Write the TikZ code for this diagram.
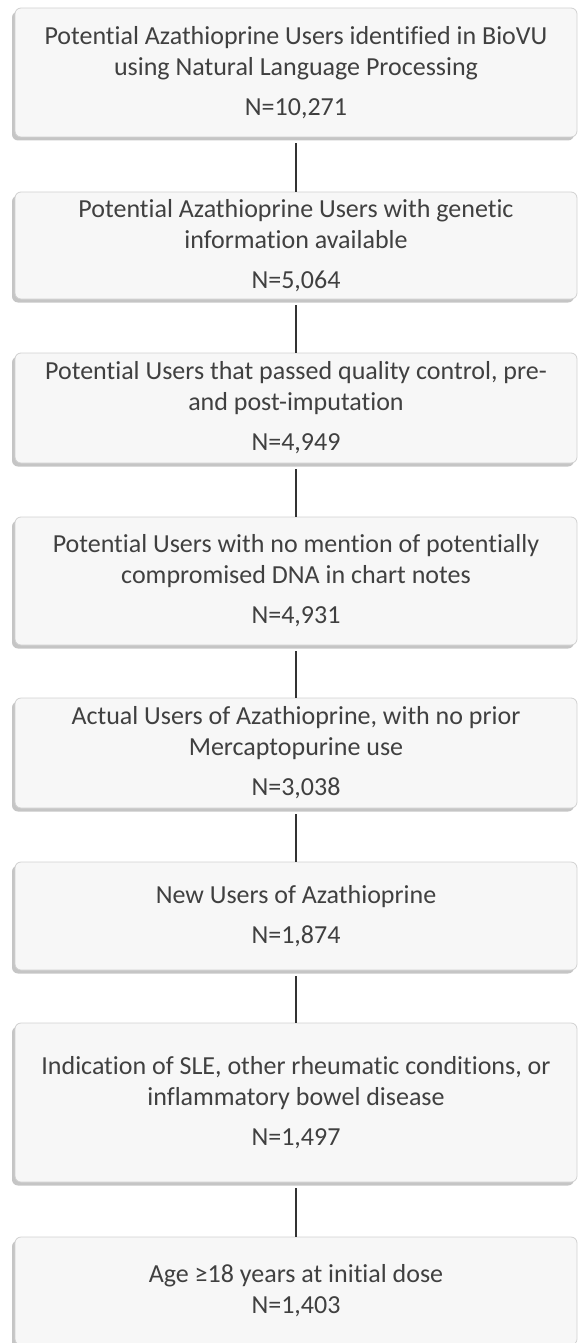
\documentclass[tikz,border=0pt]{standalone}
\usepackage{fontspec}
\setmainfont{Carlito}[Ligatures={NoCommon,NoDiscretionary}]
\usetikzlibrary{shadows}
\definecolor{boxtext}{HTML}{404040}
\definecolor{boxfill}{HTML}{F7F7F7}
\begin{document}
\begin{tikzpicture}[x=1pt, y=-1pt,
    flowbox/.style={draw=black!18, line width=0.8pt, fill=boxfill, rounded corners=6pt,
        minimum width=562pt, inner sep=0pt, align=center, text=boxtext,
        font=\fontsize{26}{31}\selectfont,
        drop shadow={shadow xshift=-3pt, shadow yshift=-3.5pt, fill=black!30, opacity=0.75}},
    link/.style={line width=1.6pt, draw=black!80}]

    \useasboundingbox (0,0) rectangle (579,1343);

    \node[flowbox, minimum height=129pt] (nlp) at (296,72.5) {Potential Azathioprine Users identified in BioVU\\ using Natural Language Processing\\[9pt] N=10,271};
    \node[flowbox, minimum height=107pt] (genetic) at (296,245.5) {Potential Azathioprine Users with genetic\\ information available\\[9pt] N=5,064};
    \node[flowbox, minimum height=110pt] (qc) at (296,408) {Potential Users that passed quality control, pre-\\ and post-imputation\\[9pt] N=4,949};
    \node[flowbox, minimum height=128pt] (dna) at (296,581) {Potential Users with no mention of potentially\\ compromised DNA in chart notes\\[9pt] N=4,931};
    \node[flowbox, minimum height=110pt] (actual) at (296,753) {Actual Users of Azathioprine, with no prior\\ Mercaptopurine use\\[9pt] N=3,038};
    \node[flowbox, minimum height=108pt] (new) at (296,916) {New Users of Azathioprine\\[9pt] N=1,874};
    \node[flowbox, minimum height=159pt] (indication) at (296,1102.5) {Indication of SLE, other rheumatic conditions, or\\ inflammatory bowel disease\\[9pt] N=1,497};
    \node[flowbox, minimum height=108pt] (adult) at (296,1291) {Age ≥18 years at initial dose\\ N=1,403};

    \draw[link] ([yshift=-6pt]nlp.south) -- (genetic.north);
    \draw[link] ([yshift=-6pt]genetic.south) -- (qc.north);
    \draw[link] ([yshift=-6pt]qc.south) -- (dna.north);
    \draw[link] ([yshift=-6pt]dna.south) -- (actual.north);
    \draw[link] ([yshift=-6pt]actual.south) -- (new.north);
    \draw[link] ([yshift=-6pt]new.south) -- (indication.north);
    \draw[link] ([yshift=-6pt]indication.south) -- (adult.north);
\end{tikzpicture}
\end{document}
